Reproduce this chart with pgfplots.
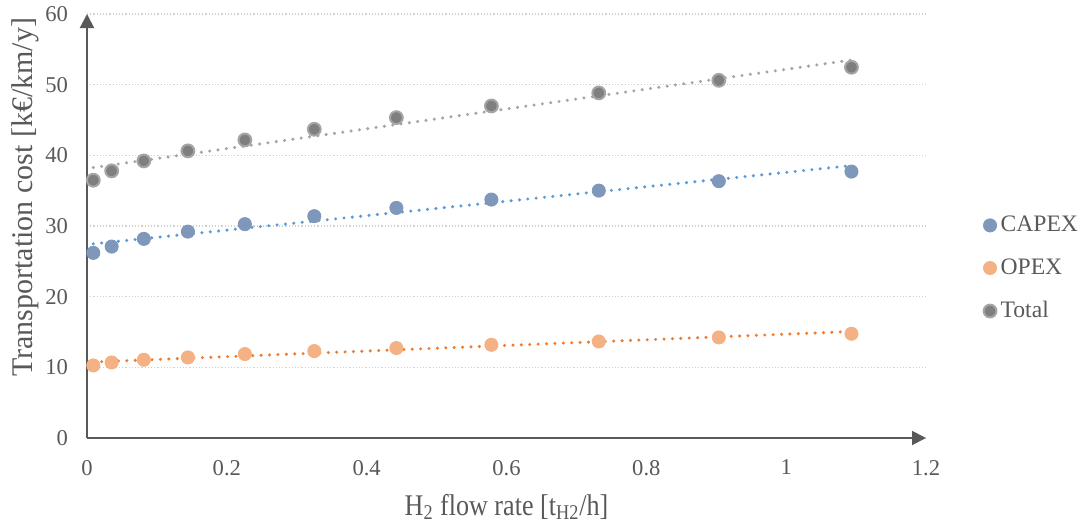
\documentclass[border=0pt]{standalone}
\usepackage{fontspec}
\setmainfont{Liberation Serif}
\usepackage{pgfplots}
\pgfplotsset{compat=1.18}
\usepackage{pgfplotstable}
\usetikzlibrary{arrows.meta}

\definecolor{txt}{HTML}{595959}
\definecolor{gridc}{HTML}{D0D0D0}
\definecolor{capexm}{HTML}{7F97BA}
\definecolor{opexm}{HTML}{F4B183}
\definecolor{totalm}{HTML}{7F7F7F}
\definecolor{totalr}{HTML}{A5A5A5}
\definecolor{capext}{HTML}{5B9BD5}
\definecolor{opext}{HTML}{ED7D31}
\definecolor{totalt}{HTML}{A5A5A5}

% flow rate [t/h], CAPEX, OPEX, Total [k€/km/y]
\pgfplotstableread{
x       capex  opex   total
0.0090  26.20  10.27  36.48
0.0353  27.09  10.69  37.80
0.0813  28.18  11.07  39.21
0.1443  29.21  11.40  40.63
0.2258  30.26  11.88  42.18
0.3251  31.39  12.30  43.69
0.4425  32.56  12.73  45.34
0.5784  33.74  13.19  46.99
0.7320  35.01  13.66  48.83
0.9037  36.34  14.23  50.62
1.0934  37.70  14.75  52.46
}\costdata

\begin{document}
\begin{tikzpicture}
\path[use as bounding box] (-43.5pt,-44pt) rectangle (498pt,219pt);
\begin{axis}[
  at={(0,0)}, anchor=south west,
  scale only axis,
  width=419.5pt, height=212pt,
  xmin=0, xmax=1.2, ymin=0, ymax=60,
  xtick={0,0.2,...,1.2},
  ytick={0,10,...,60},
  axis lines=left,
  axis line style={txt, line width=1pt, -{Triangle[length=7pt,width=7pt]}},
  major tick length=0pt,
  ymajorgrids,
  grid style={gridc, line width=0.6pt, dash pattern=on 0.6pt off 1pt},
  font=\fontsize{11.3}{13}\selectfont,
  every tick label/.append style={txt},
  /pgf/number format/assume math mode=true,
  xticklabel style={yshift=-7.5pt},
  yticklabel style={xshift=-6pt},
  xlabel={\scalebox{0.87}[1]{H\textsubscript{2} flow rate [t\textsubscript{H2}/h]}},
  ylabel={Transportation cost [k€/km/y]},
  label style={txt, font=\fontsize{15}{18}\selectfont},
  xlabel style={at={(axis description cs:0.5,0)}, anchor=base, yshift=-38.5pt},
  ylabel style={at={(axis description cs:-0.0644,0.568)}, anchor=base},
  legend style={draw=none, fill=none, at={(axis description cs:1.068,0.40)},
    anchor=west, font=\fontsize{11.8}{13}\selectfont, text=txt,
    row sep=8pt, inner sep=0pt,
    legend cell align=left},
  legend image code/.code={\draw[#1] plot coordinates {(0pt,0pt)};},
  clip=false,
]
\addplot[only marks, mark=*, mark size=3.3pt, mark options={fill=capexm, draw=capexm}]
  table[x=x, y=capex] {\costdata};
\addlegendentry{CAPEX}
\addplot[only marks, mark=*, mark size=3.3pt, mark options={fill=opexm, draw=opexm}]
  table[x=x, y=opex] {\costdata};
\addlegendentry{OPEX}
\addplot[only marks, mark=*, mark size=3.2pt, mark options={fill=totalm, draw=totalr, line width=1pt}]
  table[x=x, y=total] {\costdata};
\addlegendentry{Total}
% linear trend lines (end points)
\addplot[forget plot, capext, line width=1.7pt, line cap=round, dash pattern=on 0pt off 4.2pt]
  coordinates {(0.0090,27.47) (1.0934,38.55)};
\addplot[forget plot, opext, line width=1.7pt, line cap=round, dash pattern=on 0pt off 4.2pt]
  coordinates {(0.0090,10.75) (1.0934,15.07)};
\addplot[forget plot, totalt, line width=1.7pt, line cap=round, dash pattern=on 0pt off 4.2pt]
  coordinates {(0.0090,38.27) (1.0934,53.49)};
\end{axis}
\end{tikzpicture}
\end{document}
